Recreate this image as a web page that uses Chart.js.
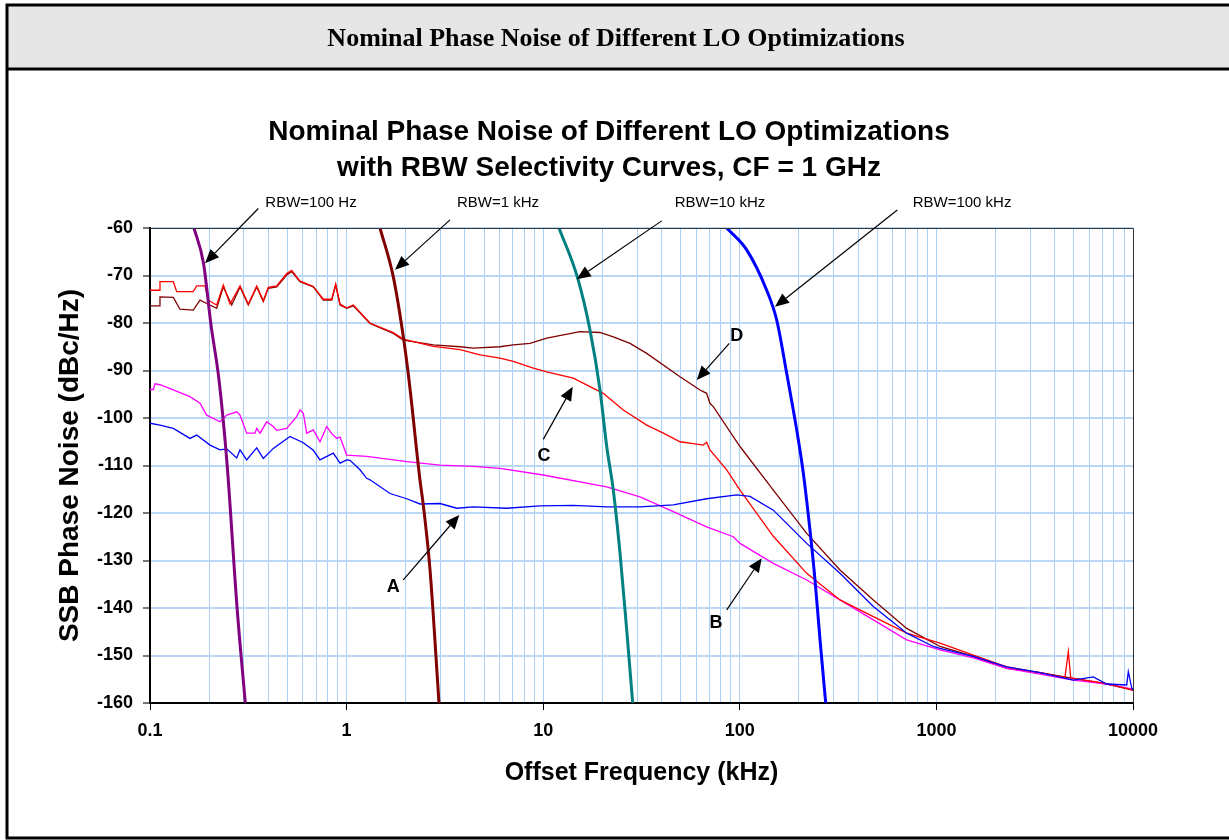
<!DOCTYPE html>
<html><head><meta charset="utf-8">
<script src="https://cdn.jsdelivr.net/npm/chart.js@4.4.1/dist/chart.umd.min.js"></script>
<style>html,body{margin:0;padding:0;background:#fff;overflow:hidden}canvas{display:block}</style>
</head><body>
<canvas id="c" width="1229" height="840" style="width:1229px;height:840px"></canvas>
<script>
// ---- data (offset frequency in kHz, level in dBc/Hz) ----
const decadeTicks = [0.1, 1, 10, 100, 1000, 10000];
const decadeLabels = ['0.1', '1', '10', '100', '1000', '10000'];
const levelTicks = [-60, -70, -80, -90, -100, -110, -120, -130, -140, -150, -160];

const freqA = [0.1, 0.1124, 0.1314, 0.1597, 0.1728, 0.202, 0.227, 0.2456, 0.2761, 0.287, 0.3103, 0.3489, 0.377, 0.4239, 0.5153, 0.6024, 0.6772, 0.7322, 0.856, 0.926, 1.001, 1.041, 1.170, 1.265, 1.315, 1.663, 2.022, 2.362, 2.987, 3.631, 4.411, 6.52, 9.63, 14.23, 21.04, 31.08, 45.9, 67.8, 96.4, 112.7, 148.1, 218.9, 323.3, 477.7, 706.3, 964.3, 1043, 1541, 2279, 3365, 4970, 6283, 7347, 9289, 9466, 9849, 10000];
const levelA = [-101.1, -101.5, -102.2, -104.3, -103.6, -105.7, -106.7, -106.5, -108.4, -106.7, -108.8, -106.3, -108.5, -106.4, -103.9, -105.2, -106.8, -108.8, -107.4, -109.5, -108.8, -108.9, -110.9, -112.7, -113.0, -115.9, -117.0, -118.1, -118.0, -119.0, -118.7, -119.0, -118.5, -118.4, -118.7, -118.7, -118.3, -117.0, -116.2, -116.5, -119.4, -126.4, -132.7, -139.7, -145.3, -148.1, -148.5, -150.2, -152.4, -153.6, -155.2, -154.5, -156.0, -156.2, -153.4, -156.8, -157.3];

const freqB = [0.1, 0.104, 0.106, 0.1124, 0.1314, 0.1597, 0.1796, 0.1943, 0.227, 0.2456, 0.2761, 0.287, 0.3103, 0.342, 0.3489, 0.3627, 0.3923, 0.4239, 0.441, 0.4958, 0.5573, 0.5794, 0.6024, 0.6266, 0.6772, 0.7322, 0.7922, 0.84, 0.891, 0.926, 1.001, 1.265, 2.022, 2.987, 4.411, 6.03, 10.01, 21.04, 31.08, 45.9, 67.8, 92.7, 100.2, 148.1, 218.9, 323.3, 477.7, 706.3, 1043, 1541, 2279, 3365, 4970, 7347, 10000];
const levelB = [-94.0, -94.0, -92.8, -93.0, -94.1, -95.5, -96.9, -99.4, -100.8, -99.4, -98.7, -99.4, -103.2, -103.2, -102.2, -103.2, -100.8, -101.8, -102.6, -102.2, -99.7, -98.3, -99.0, -103.2, -102.5, -105.0, -101.8, -103.3, -104.3, -104.0, -107.8, -108.1, -109.2, -109.9, -110.2, -110.6, -112.0, -114.5, -116.6, -119.7, -122.9, -125.0, -126.4, -130.6, -134.1, -138.3, -142.5, -146.7, -148.8, -150.5, -152.7, -153.9, -155.2, -156.0, -157.1];

const freqC = [0.1, 0.1124, 0.1124, 0.1314, 0.1367, 0.166, 0.1728, 0.1905, 0.198, 0.2184, 0.236, 0.2552, 0.287, 0.3162, 0.3489, 0.377, 0.3997, 0.441, 0.4958, 0.5257, 0.5794, 0.6772, 0.7612, 0.84, 0.88, 0.926, 1.001, 1.082, 1.315, 1.728, 1.943, 2.761, 3.775, 4.77, 6.03, 7.046, 8.91, 10.42, 14.23, 17.3, 20.22, 25.55, 33.61, 40.83, 49.65, 58.0, 65.2, 67.8, 70.5, 85.8, 100.2, 148.1, 218.9, 323.3, 477.7, 706.3, 1043, 1541, 2279, 3365, 4508, 4688, 4821, 7347, 10000];
const levelC = [-73.1, -73.1, -71.3, -71.3, -73.4, -73.4, -72.2, -72.2, -75.2, -76.2, -72.0, -76.0, -72.2, -76.0, -72.2, -75.3, -72.5, -72.2, -69.6, -68.9, -71.2, -72.3, -75.0, -75.0, -71.8, -76.0, -76.8, -76.2, -80.0, -82.0, -83.4, -84.9, -85.6, -86.7, -87.4, -88.1, -89.5, -90.3, -91.6, -93.4, -94.8, -98.3, -101.5, -103.2, -105.0, -105.4, -105.7, -105.1, -106.7, -110.9, -115.2, -124.9, -132.7, -138.3, -141.8, -145.3, -147.4, -149.9, -152.4, -153.6, -154.6, -149.2, -154.7, -155.9, -157.3];

const freqD = [0.1, 0.1124, 0.1124, 0.1314, 0.142, 0.166, 0.1796, 0.1943, 0.2184, 0.236, 0.2604, 0.287, 0.3162, 0.3489, 0.377, 0.3997, 0.441, 0.4958, 0.5257, 0.5794, 0.6772, 0.7612, 0.84, 0.88, 0.926, 1.001, 1.082, 1.315, 1.728, 1.943, 2.761, 3.775, 4.411, 6.03, 7.046, 8.57, 10.42, 15.39, 19.45, 22.73, 27.64, 33.61, 49.65, 62.74, 67.8, 70.5, 73.3, 100.2, 148.1, 218.9, 323.3, 477.7, 706.3, 1043, 1541, 2279, 3365, 4970, 7347, 10000];
const levelD = [-76.4, -76.4, -74.5, -74.6, -77.1, -77.3, -75.2, -75.9, -76.9, -72.4, -76.2, -72.4, -76.2, -72.4, -75.5, -72.7, -72.4, -69.9, -69.2, -71.3, -72.4, -75.2, -75.2, -72.0, -76.2, -76.9, -76.4, -80.1, -82.2, -83.6, -84.6, -85.0, -85.3, -85.0, -84.6, -84.3, -83.2, -81.8, -82.0, -82.9, -84.3, -86.4, -91.3, -94.1, -94.8, -96.9, -97.6, -106.0, -115.2, -124.3, -132.0, -138.3, -144.3, -148.1, -150.2, -152.7, -153.6, -154.8, -156.0, -157.3];

const rbw100HzFreq = [0.1674, 0.1871, 0.2043, 0.2244, 0.2464, 0.2771, 0.3053];
const rbw100HzLevel = [-60, -67.4, -80.4, -92.0, -109.5, -139.8, -160];
const rbw1kHzFreq = [1.479, 1.728, 1.943, 2.077, 2.362, 2.455, 2.657, 2.951];
const rbw1kHzLevel = [-60, -70.3, -82.9, -92.0, -113.1, -118.3, -132.0, -160];
const rbw10kHzFreq = [12.03, 14.91, 17.3, 19.45, 21.04, 22.73, 24.58, 26.59, 28.52];
const rbw10kHzLevel = [-60, -70.3, -81.5, -94.1, -106.0, -115.2, -128.4, -144.6, -160];
const rbw100kHzFreq = [85.8, 108.4, 137.0, 154.1, 173.2, 194.7, 210.4, 227.5, 241.3, 255.9, 273.5];
const rbw100kHzLevel = [-60, -64.6, -73.1, -79.4, -90.6, -102.5, -111.6, -123.6, -134.1, -146.7, -160];

// annotations in data coordinates: label position, arrow start, arrow tip
const notes = [
  {text: 'RBW=100 Hz', tx: 0.659, ty: -54.7, x1: 0.3556, y1: -55.9, x2: 0.1905, y2: -67.4, bold: false},
  {text: 'RBW=1 kHz', tx: 5.89, ty: -54.7, x1: 3.357, y1: -58.3, x2: 1.763, y2: -68.8, bold: false},
  {text: 'RBW=10 kHz', tx: 79.3, ty: -54.7, x1: 40.06, y1: -58.5, x2: 14.81, y2: -70.8, bold: false},
  {text: 'RBW=100 kHz', tx: 1350, ty: -54.7, x1: 632.6, y1: -56.2, x2: 151.0, y2: -76.6, bold: false},
  {text: 'D', tx: 96.4, ty: -82.7, x1: 88.4, y1: -84.3, x2: 60.4, y2: -92.0, bold: true},
  {text: 'C', tx: 10.09, ty: -108.1, x1: 10.01, y1: -104.5, x2: 14.13, y2: -93.4, bold: true},
  {text: 'A', tx: 1.728, ty: -135.5, x1: 1.943, y1: -134.1, x2: 3.743, y2: -120.4, bold: true},
  {text: 'B', tx: 75.7, ty: -143.1, x1: 85.8, y1: -140.4, x2: 129.3, y2: -129.5, bold: true}
];

// ---- build ----
const zip = (xs, ys) => xs.map((x, i) => ({x: x, y: ys[i]}));
const gridValues = [];
for (let k = -1; k <= 3; k++) for (let n = 1; n <= 9; n++) gridValues.push(Number((n * Math.pow(10, k)).toPrecision(6)));
gridValues.push(10000);
const isDecade = v => decadeTicks.some(d => Math.abs(d - v) / d < 1e-6);
const SANS = '"Liberation Sans", Arial, sans-serif';

function line(label, data, color, width, smooth) {
  return {label, data, borderColor: color, backgroundColor: color, borderWidth: width,
    pointRadius: 0, fill: false, tension: 0, cubicInterpolationMode: smooth ? 'monotone' : 'default'};
}

const framePlugin = {
  id: 'frame',
  beforeDraw(chart) {
    const c = chart.ctx;
    c.save();
    c.fillStyle = '#fff';
    c.fillRect(0, 0, chart.width, chart.height);
    c.fillStyle = '#e6e6e6';
    c.fillRect(7, 5, chart.width, 64);
    c.strokeStyle = '#000';
    c.lineWidth = 3;
    c.beginPath();
    c.moveTo(7, 3.5); c.lineTo(7, 838.5);
    c.moveTo(5.5, 5); c.lineTo(chart.width + 5, 5);
    c.moveTo(5.5, 69); c.lineTo(chart.width + 5, 69);
    c.moveTo(5.5, 838); c.lineTo(chart.width + 5, 838);
    c.stroke();
    c.fillStyle = '#000';
    c.textAlign = 'center';
    c.textBaseline = 'alphabetic';
    c.font = 'bold 26px "Liberation Serif", "Times New Roman", serif';
    c.fillText('Nominal Phase Noise of Different LO Optimizations', 616, 46);
    c.font = 'bold 28px ' + SANS;
    c.fillText('Nominal Phase Noise of Different LO Optimizations', 609, 140);
    c.fillText('with RBW Selectivity Curves, CF = 1 GHz', 609, 176);
    c.restore();
  },
  afterDatasetsDraw(chart) {
    const c = chart.ctx, a = chart.chartArea;
    const xs = chart.scales.x, ys = chart.scales.y;
    c.save();
    c.strokeStyle = '#333';
    c.lineWidth = 1;
    c.beginPath();
    c.moveTo(a.left, a.top + 0.5); c.lineTo(a.right + 0.5, a.top + 0.5); c.lineTo(a.right + 0.5, a.bottom);
    c.stroke();
    notes.forEach(n => {
      const X1 = xs.getPixelForValue(n.x1), Y1 = ys.getPixelForValue(n.y1);
      const X2 = xs.getPixelForValue(n.x2), Y2 = ys.getPixelForValue(n.y2);
      const ang = Math.atan2(Y2 - Y1, X2 - X1);
      const L = 14, W = 6;
      const bx = X2 - L * Math.cos(ang), by = Y2 - L * Math.sin(ang);
      c.strokeStyle = '#000'; c.lineWidth = 1.2;
      c.beginPath(); c.moveTo(X1, Y1); c.lineTo(bx, by); c.stroke();
      c.fillStyle = '#000';
      c.beginPath();
      c.moveTo(X2, Y2);
      c.lineTo(bx + W * Math.sin(ang), by - W * Math.cos(ang));
      c.lineTo(bx - W * Math.sin(ang), by + W * Math.cos(ang));
      c.closePath(); c.fill();
      c.font = (n.bold ? 'bold 18px ' : '15px ') + SANS;
      c.textAlign = 'center'; c.textBaseline = 'middle';
      c.fillText(n.text, xs.getPixelForValue(n.tx), ys.getPixelForValue(n.ty));
    });
    c.restore();
  }
};

new Chart(document.getElementById('c'), {
  type: 'line',
  data: {
    datasets: [
      line('RBW=100 Hz', zip(rbw100HzFreq, rbw100HzLevel), '#800080', 3, true),
      line('RBW=1 kHz', zip(rbw1kHzFreq, rbw1kHzLevel), '#800000', 3, true),
      line('RBW=10 kHz', zip(rbw10kHzFreq, rbw10kHzLevel), '#008080', 3, true),
      line('RBW=100 kHz', zip(rbw100kHzFreq, rbw100kHzLevel), '#0000ff', 3, true),
      line('A', zip(freqA, levelA), '#0000ff', 1.3, false),
      line('C', zip(freqC, levelC), '#ff0000', 1.3, false),
      line('B', zip(freqB, levelB), '#ff00ff', 1.3, false),
      line('D', zip(freqD, levelD), '#800000', 1.3, false)
    ]
  },
  options: {
    responsive: false,
    animation: false,
    devicePixelRatio: 1,
    parsing: false,
    layout: {padding: {top: 228, right: 96, bottom: 0, left: 0}},
    plugins: {legend: {display: false}, title: {display: false}, tooltip: {enabled: false}},
    scales: {
      x: {
        type: 'logarithmic', min: 0.1, max: 10000,
        afterBuildTicks: s => { s.ticks = gridValues.map(v => ({value: v, major: isDecade(v)})); },
        afterFit: s => { s.height = 137; },
        ticks: {
          autoSkip: false, maxRotation: 0, minRotation: 0, padding: 10, color: '#000',
          font: {family: SANS, size: 18, weight: 'bold'},
          callback: v => { const i = decadeTicks.findIndex(d => Math.abs(d - v) / d < 1e-6); return i >= 0 ? decadeLabels[i] : ''; }
        },
        grid: {color: '#a9d0f5', lineWidth: 1, tickLength: 7,
          tickColor: ctx => (ctx.tick && isDecade(ctx.tick.value)) ? '#000' : 'rgba(0,0,0,0)'},
        border: {color: '#000', width: 2},
        title: {display: true, text: 'Offset Frequency (kHz)', color: '#000',
          font: {family: SANS, size: 25, weight: 'bold'}, padding: {top: 0, bottom: 52}}
      },
      y: {
        type: 'linear', min: -160, max: -60,
        afterBuildTicks: s => { s.ticks = levelTicks.map(v => ({value: v})); },
        afterFit: s => { s.width = 150; },
        ticks: {padding: 10, color: '#000', font: {family: SANS, size: 18, weight: 'bold'}, callback: v => String(v)},
        grid: {color: '#b8d8f6', lineWidth: 2, tickLength: 7, tickColor: '#777'},
        border: {color: '#000', width: 2},
        title: {display: true, text: 'SSB Phase Noise (dBc/Hz)', color: '#000',
          font: {family: SANS, size: 28, weight: 'bold'}, padding: {top: 53, bottom: 0}}
      }
    }
  },
  plugins: [framePlugin]
});
</script>
</body></html>
